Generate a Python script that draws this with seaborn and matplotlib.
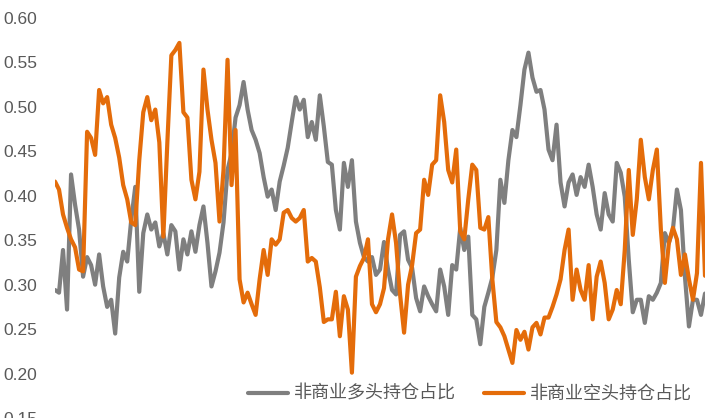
import numpy as np
import pandas as pd
import matplotlib
matplotlib.use("Agg")
import matplotlib.pyplot as plt
import seaborn as sns
from matplotlib.lines import Line2D

# ---- data ----
long_name = "非商业多头持仓占比"
short_name = "非商业空头持仓占比"

long_ratio = [
    0.294, 0.291, 0.339, 0.272, 0.424, 0.390, 0.362, 0.309, 0.331, 0.322,
    0.300, 0.334, 0.298, 0.275, 0.283, 0.245, 0.308, 0.337, 0.326, 0.373,
    0.410, 0.292, 0.358, 0.379, 0.362, 0.370, 0.343, 0.358, 0.334, 0.367,
    0.360, 0.317, 0.351, 0.334, 0.360, 0.337, 0.367, 0.388, 0.347, 0.298,
    0.315, 0.336, 0.370, 0.429, 0.448, 0.488, 0.502, 0.528, 0.497, 0.474,
    0.463, 0.448, 0.421, 0.399, 0.407, 0.384, 0.416, 0.434, 0.454, 0.483,
    0.511, 0.497, 0.508, 0.466, 0.483, 0.463, 0.513, 0.478, 0.438, 0.435,
    0.384, 0.362, 0.437, 0.410, 0.440, 0.371, 0.347, 0.331, 0.326, 0.331,
    0.311, 0.317, 0.348, 0.317, 0.294, 0.289, 0.356, 0.360, 0.328, 0.319,
    0.285, 0.270, 0.298, 0.287, 0.278, 0.270, 0.317, 0.298, 0.266, 0.322,
    0.317, 0.364, 0.339, 0.354, 0.266, 0.261, 0.233, 0.275, 0.291, 0.308,
    0.339, 0.418, 0.392, 0.440, 0.474, 0.466, 0.502, 0.542, 0.561, 0.533,
    0.517, 0.519, 0.497, 0.452, 0.440, 0.480, 0.415, 0.388, 0.415, 0.424,
    0.401, 0.421, 0.410, 0.435, 0.410, 0.379, 0.362, 0.403, 0.379, 0.371,
    0.437, 0.426, 0.399, 0.328, 0.269, 0.283, 0.283, 0.257, 0.287, 0.283,
    0.291, 0.302, 0.358, 0.347, 0.362, 0.407, 0.384, 0.309, 0.253, 0.283,
    0.283, 0.266, 0.290,
]

short_ratio = [
    0.416, 0.407, 0.379, 0.364, 0.351, 0.342, 0.317, 0.315, 0.472, 0.465,
    0.446, 0.519, 0.504, 0.511, 0.480, 0.465, 0.443, 0.412, 0.396, 0.370,
    0.367, 0.440, 0.494, 0.511, 0.485, 0.497, 0.460, 0.354, 0.460, 0.558,
    0.564, 0.572, 0.494, 0.488, 0.418, 0.396, 0.427, 0.542, 0.497, 0.463,
    0.437, 0.371, 0.429, 0.553, 0.412, 0.474, 0.306, 0.280, 0.291, 0.278,
    0.266, 0.306, 0.339, 0.311, 0.351, 0.345, 0.351, 0.381, 0.384, 0.375,
    0.371, 0.375, 0.384, 0.326, 0.330, 0.326, 0.297, 0.258, 0.261, 0.261,
    0.292, 0.242, 0.287, 0.272, 0.201, 0.309, 0.321, 0.330, 0.351, 0.278,
    0.269, 0.278, 0.296, 0.351, 0.379, 0.347, 0.289, 0.246, 0.300, 0.322,
    0.358, 0.362, 0.418, 0.401, 0.435, 0.440, 0.513, 0.483, 0.429, 0.415,
    0.452, 0.360, 0.351, 0.396, 0.435, 0.429, 0.364, 0.362, 0.376, 0.306,
    0.258, 0.252, 0.242, 0.227, 0.212, 0.249, 0.238, 0.247, 0.227, 0.252,
    0.257, 0.244, 0.263, 0.263, 0.275, 0.289, 0.306, 0.339, 0.362, 0.283,
    0.317, 0.294, 0.283, 0.322, 0.261, 0.309, 0.326, 0.302, 0.261, 0.272,
    0.294, 0.278, 0.339, 0.429, 0.356, 0.396, 0.463, 0.421, 0.396, 0.429,
    0.452, 0.362, 0.302, 0.347, 0.364, 0.351, 0.311, 0.334, 0.306, 0.283,
    0.313, 0.437, 0.310,
]

y_ticks = [0.15, 0.20, 0.25, 0.30, 0.35, 0.40, 0.45, 0.50, 0.55, 0.60]

# ---- build long-form table ----
week = np.arange(len(long_ratio))
df = pd.DataFrame({
    "week": np.concatenate([week, week]),
    "ratio": long_ratio + short_ratio,
    "series": [long_name] * len(long_ratio) + [short_name] * len(short_ratio),
})

sns.set_theme(style="white")
plt.rcParams["font.family"] = ["Noto Sans CJK SC", "DejaVu Sans"]

W, H = 710, 418
fig = plt.figure(figsize=(W / 100, H / 100), dpi=100)
ax = fig.add_axes([55 / W, 0.0, (705 - 55) / W, 1 - 18 / H])

palette = {long_name: "#7f7f7f", short_name: "#E46C0A"}
sns.lineplot(data=df, x="week", y="ratio", hue="series", palette=palette,
             linewidth=3.0, ax=ax, legend=False)

ax.set_xlim(week[0], week[-1])
ax.set_ylim(0.15, 0.60)
ax.set_yticks(y_ticks)
ax.set_yticklabels([f"{t:.2f}" for t in y_ticks], color="#595959",
                   fontfamily="Liberation Sans")
ax.tick_params(axis="y", labelsize=12.5, length=0, pad=13)
ax.set_xticks([])
ax.set_xlabel("")
ax.set_ylabel("")
for s in ax.spines.values():
    s.set_visible(False)

handles = [Line2D([], [], color=palette[long_name], lw=3.0),
           Line2D([], [], color=palette[short_name], lw=3.0)]
fig.legend(handles, [long_name, short_name], loc="center",
           bbox_to_anchor=(470 / W, 1 - 394 / H), ncol=2, frameon=False,
           fontsize=13, handlelength=2.2, handletextpad=0.3,
           columnspacing=1.6, labelcolor="#595959")

fig.savefig("out.png", dpi=100)
